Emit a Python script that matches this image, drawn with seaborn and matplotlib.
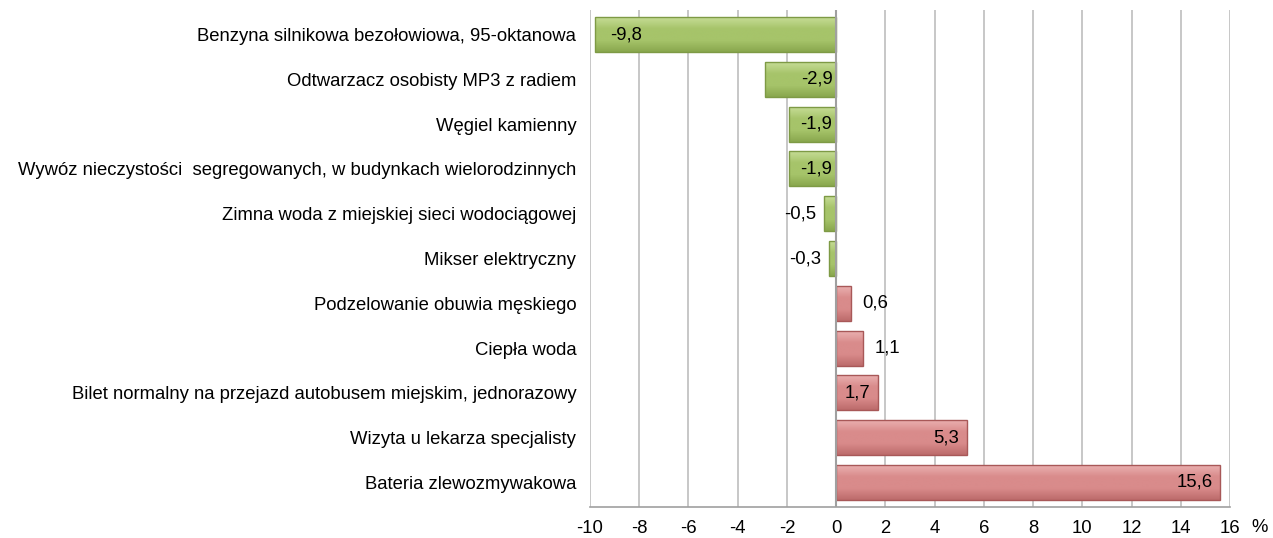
import numpy as np
import pandas as pd
import matplotlib
matplotlib.use("Agg")
import matplotlib.pyplot as plt
from matplotlib.colors import LinearSegmentedColormap
import seaborn as sns

# ── dane ──
KATEGORIE = [
    "Benzyna silnikowa bezołowiowa, 95-oktanowa",
    "Odtwarzacz osobisty MP3 z radiem",
    "Węgiel kamienny",
    "Wywóz nieczystości  segregowanych, w budynkach wielorodzinnych",
    "Zimna woda z miejskiej sieci wodociągowej",
    "Mikser elektryczny",
    "Podzelowanie obuwia męskiego",
    "Ciepła woda",
    "Bilet normalny na przejazd autobusem miejskim, jednorazowy",
    "Wizyta u lekarza specjalisty",
    "Bateria zlewozmywakowa",
]
ZMIANA = [-9.8, -2.9, -1.9, -1.9, -0.5, -0.3, 0.6, 1.1, 1.7, 5.3, 15.6]
XTICKS = list(range(-10, 17, 2))

df = pd.DataFrame({"kategoria": KATEGORIE, "zmiana": ZMIANA})
df["znak"] = np.where(df["zmiana"] < 0, "spadek", "wzrost")

# ── styl ──
sns.set_style("white")
plt.rcParams["font.family"] = ["Liberation Sans", "DejaVu Sans"]
plt.rcParams["text.color"] = "black"
FS = 13.3

KOLORY = {"spadek": "#A6C46A", "wzrost": "#D98B8B"}
KRAWEDZ = {"spadek": "#7E9A45", "wzrost": "#A85858"}
GRADIENT = {
    "spadek": ["#C6DC96", "#A6C46A", "#A6C46A", "#89A74E"],
    "wzrost": ["#EAB0B0", "#D98B8B", "#D98B8B", "#BC6B6B"],
}

fig = plt.figure(figsize=(12.73, 5.38), dpi=100)
ax = fig.add_axes([0.4635, 0.0576, 0.5027, 0.9238])

sns.barplot(data=df, y="kategoria", x="zmiana", hue="znak",
            palette=KOLORY, dodge=False, width=0.78, legend=False,
            order=KATEGORIE, ax=ax, zorder=3)

# efekt wypuklosci (gradient przyciety do slupka)
grad = np.linspace(0, 1, 64).reshape(-1, 1)
for patch, znak in zip(list(ax.patches), df["znak"]):
    cmap = LinearSegmentedColormap.from_list(znak, GRADIENT[znak])
    x0, y0 = patch.get_x(), patch.get_y()
    w, h = patch.get_width(), patch.get_height()
    im = ax.imshow(grad, extent=[x0, x0 + w, y0 + h, y0], aspect="auto",
                   cmap=cmap, zorder=3.2, interpolation="bicubic")
    im.set_clip_path(patch)
    patch.set_edgecolor(KRAWEDZ[znak])
    patch.set_linewidth(1.0)
    patch.set_zorder(3.4)
    patch.set_facecolor("none")

ax.set_xlim(-10, 16)
ax.set_ylim(len(KATEGORIE) - 0.5 + 0.05, -0.5 - 0.05)
ax.set_aspect("auto")
ax.set_xticks(XTICKS)
ax.set_xticklabels([str(t) for t in XTICKS], fontsize=FS)
ax.tick_params(axis="x", length=4, color="#A0A0A0", labelcolor="black", pad=5)
ax.tick_params(axis="y", length=0, pad=10, labelsize=FS, labelcolor="black")
ax.set_xlabel("")
ax.set_ylabel("")

ax.grid(axis="x", color="#BDBDBD", lw=1.2, zorder=0)
for s in ["top", "right", "left"]:
    ax.spines[s].set_visible(False)
ax.spines["bottom"].set_color("#A0A0A0")
ax.spines["bottom"].set_linewidth(1.2)
ax.axvline(0, color="#A0A0A0", lw=1.5, zorder=4)

# etykiety wartosci
for i, v in enumerate(ZMIANA):
    tekst = f"{v:.1f}".replace(".", ",")
    if v < -5:
        x, ha = v + 0.6, "left"
    elif v <= -1.5:
        x, ha = -0.15, "right"
    elif v < 0:
        x, ha = v - 0.3, "right"
    elif v < 1.5:
        x, ha = v + 0.45, "left"
    else:
        x, ha = v - 0.3, "right"
    ax.text(x, i, tekst, ha=ha, va="center", fontsize=FS, color="black",
            zorder=5)

fig.text(1260 / 1273, 1 - 527 / 538, "%", fontsize=FS, ha="center",
         va="center")

fig.savefig("out.png", dpi=100)
